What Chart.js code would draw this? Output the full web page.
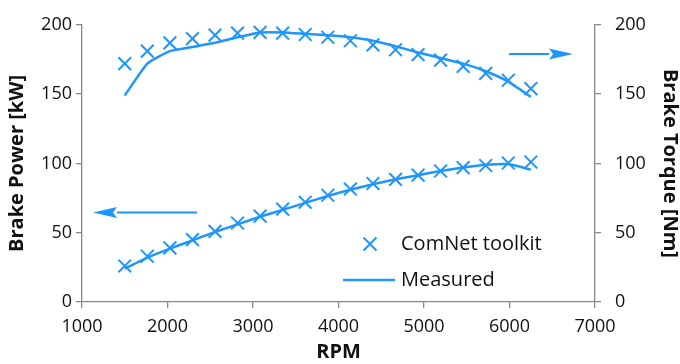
<!DOCTYPE html>
<html>
<head>
<meta charset="utf-8">
<script src="https://cdn.jsdelivr.net/npm/chart.js@4/dist/chart.umd.min.js"></script>
<style>
  html, body { margin: 0; padding: 0; background: #fff; }
  #wrap { width: 680px; height: 364px; }
</style>
</head>
<body>
<div id="wrap"><canvas id="engineChart" width="680" height="364"></canvas></div>
<script>
var rpm = [1500, 1764, 2028, 2292, 2556, 2819, 3083, 3347, 3611, 3875, 4139, 4403, 4667, 4931, 5194, 5458, 5722, 5986, 6250];

var torqueComNet  = [172, 181, 187, 190, 192.5, 194, 194.5, 194, 193, 191, 188.5, 185.5, 182, 178.5, 174.5, 170, 165, 160, 154];
var torqueMeasured = [149, 172, 181, 184, 187, 191, 194.5, 194.5, 193.5, 192.5, 191, 188.5, 184.5, 180, 176, 172, 166.5, 159, 148];

var powerComNet  = [26, 33, 39, 45, 51, 57, 62, 67, 72, 77, 81.5, 85.5, 88.5, 91.5, 94.5, 97, 98.5, 100.3, 101];
var powerMeasured = [24, 32, 38.5, 44.5, 50.5, 56, 61.5, 66.5, 71.5, 76.5, 81, 85, 88.5, 91.5, 94.5, 97, 99, 99.5, 95.5];

var xTicks = [1000, 2000, 3000, 4000, 5000, 6000, 7000];
var yTicks = [0, 50, 100, 150, 200];

var seriesNames = ['ComNet toolkit', 'Measured'];

// arrows pointing to the axis each curve belongs to, in data units
var arrowPower  = { from: [2346, 64.6], to: [1129, 64.6] };
var arrowTorque = { from: [5994, 179], to: [6743, 179] };

var blue = 'rgb(30,150,252)';
var axisGrey = '#888888';
var fontFam = "'Open Sans', 'Noto Sans', sans-serif";

function pts(ys) {
  return rpm.map(function(x, i) { return { x: x, y: ys[i] }; });
}

function drawArrow(ctx, x1, y1, x2, y2) {
  var ang = Math.atan2(y2 - y1, x2 - x1);
  var headLen = 24, headW = 5.5;
  var bx = x2 - headLen * Math.cos(ang), by = y2 - headLen * Math.sin(ang);
  ctx.strokeStyle = blue;
  ctx.fillStyle = blue;
  ctx.lineWidth = 2;
  ctx.beginPath();
  ctx.moveTo(x1, y1);
  ctx.lineTo(bx, by);
  ctx.stroke();
  ctx.beginPath();
  ctx.moveTo(x2, y2);
  ctx.lineTo(bx - headW * Math.sin(ang), by + headW * Math.cos(ang));
  ctx.lineTo(bx + 4 * Math.cos(ang), by + 4 * Math.sin(ang));
  ctx.lineTo(bx + headW * Math.sin(ang), by - headW * Math.cos(ang));
  ctx.closePath();
  ctx.fill();
}

var extras = {
  id: 'extras',
  afterDatasetsDraw: function(chart) {
    var ctx = chart.ctx;
    var sx = chart.scales.x, sy = chart.scales.y;
    ctx.save();
    [arrowPower, arrowTorque].forEach(function(a) {
      drawArrow(ctx,
        sx.getPixelForValue(a.from[0]), sy.getPixelForValue(a.from[1]),
        sx.getPixelForValue(a.to[0]), sy.getPixelForValue(a.to[1]));
    });

    // legend inside the plot
    ctx.font = '20px ' + fontFam;
    ctx.textBaseline = 'middle';
    ctx.textAlign = 'left';
    ctx.fillStyle = '#111';
    ctx.strokeStyle = blue;
    ctx.lineWidth = 2;
    var mx = 370, my = 244, r = 6.5;
    ctx.beginPath();
    ctx.moveTo(mx - r, my - r); ctx.lineTo(mx + r, my + r);
    ctx.moveTo(mx - r, my + r); ctx.lineTo(mx + r, my - r);
    ctx.stroke();
    ctx.fillText(seriesNames[0], 401, my);
    var ly = 280;
    ctx.lineWidth = 2.5;
    ctx.beginPath();
    ctx.moveTo(343, ly); ctx.lineTo(395, ly);
    ctx.stroke();
    ctx.fillText(seriesNames[1], 401, ly);
    ctx.restore();
  }
};

function axisGrid() {
  return { display: true, drawOnChartArea: false, drawTicks: true, tickLength: 6, color: axisGrey, lineWidth: 1.3 };
}

var ctx1 = document.getElementById('engineChart').getContext('2d');
var engineChart = new Chart(ctx1, {
  type: 'scatter',
  data: {
    datasets: [
      {
        label: seriesNames[0] + ' torque',
        data: pts(torqueComNet),
        yAxisID: 'y2',
        showLine: false,
        pointStyle: 'crossRot',
        pointRadius: 9,
        pointBorderWidth: 2,
        borderColor: blue,
        backgroundColor: blue
      },
      {
        label: seriesNames[1] + ' torque',
        data: pts(torqueMeasured),
        yAxisID: 'y2',
        showLine: true,
        pointRadius: 0,
        borderWidth: 2.5,
        borderColor: blue,
        tension: 0.15
      },
      {
        label: seriesNames[0] + ' power',
        data: pts(powerComNet),
        yAxisID: 'y',
        showLine: false,
        pointStyle: 'crossRot',
        pointRadius: 9,
        pointBorderWidth: 2,
        borderColor: blue,
        backgroundColor: blue
      },
      {
        label: seriesNames[1] + ' power',
        data: pts(powerMeasured),
        yAxisID: 'y',
        showLine: true,
        pointRadius: 0,
        borderWidth: 2.5,
        borderColor: blue,
        tension: 0.15
      }
    ]
  },
  options: {
    responsive: false,
    animation: false,
    layout: { padding: { top: 17, left: 0, right: 0, bottom: 0 } },
    plugins: {
      legend: { display: false },
      tooltip: { enabled: false }
    },
    scales: {
      x: {
        type: 'linear',
        min: xTicks[0],
        max: xTicks[xTicks.length - 1],
        afterBuildTicks: function(scale) { scale.ticks = xTicks.map(function(v) { return { value: v }; }); },
        afterFit: function(scale) { scale.height = 62; },
        grid: axisGrid(),
        border: { color: axisGrey, width: 1.3 },
        ticks: {
          padding: 8,
          color: '#111',
          font: { family: fontFam, size: 18 },
          callback: function(v) { return String(v); }
        },
        title: {
          display: true,
          text: 'RPM',
          color: '#111',
          font: { family: fontFam, size: 20, weight: 'bold' },
          padding: { top: 0, bottom: 0 }
        }
      },
      y: {
        position: 'left',
        min: yTicks[0],
        max: yTicks[yTicks.length - 1],
        afterBuildTicks: function(scale) { scale.ticks = yTicks.map(function(v) { return { value: v }; }); },
        afterFit: function(scale) { scale.width = 82; },
        grid: axisGrid(),
        border: { color: axisGrey, width: 1.3 },
        ticks: {
          padding: 4,
          color: '#111',
          font: { family: fontFam, size: 18 },
          callback: function(v) { return String(v); }
        },
        title: {
          display: true,
          text: 'Brake Power [kW]',
          color: '#111',
          font: { family: fontFam, size: 20, weight: 'bold' },
          padding: { top: 5, bottom: 0 }
        }
      },
      y2: {
        position: 'right',
        min: yTicks[0],
        max: yTicks[yTicks.length - 1],
        afterBuildTicks: function(scale) { scale.ticks = yTicks.map(function(v) { return { value: v }; }); },
        afterFit: function(scale) { scale.width = 85; },
        grid: axisGrid(),
        border: { color: axisGrey, width: 1.3 },
        ticks: {
          padding: 14,
          color: '#111',
          font: { family: fontFam, size: 18 },
          callback: function(v) { return String(v); }
        },
        title: {
          display: true,
          text: 'Brake Torque [Nm]',
          color: '#111',
          font: { family: fontFam, size: 20, weight: 'bold' },
          padding: { top: -2, bottom: 0 }
        }
      }
    }
  },
  plugins: [extras]
});
</script>
</body>
</html>
